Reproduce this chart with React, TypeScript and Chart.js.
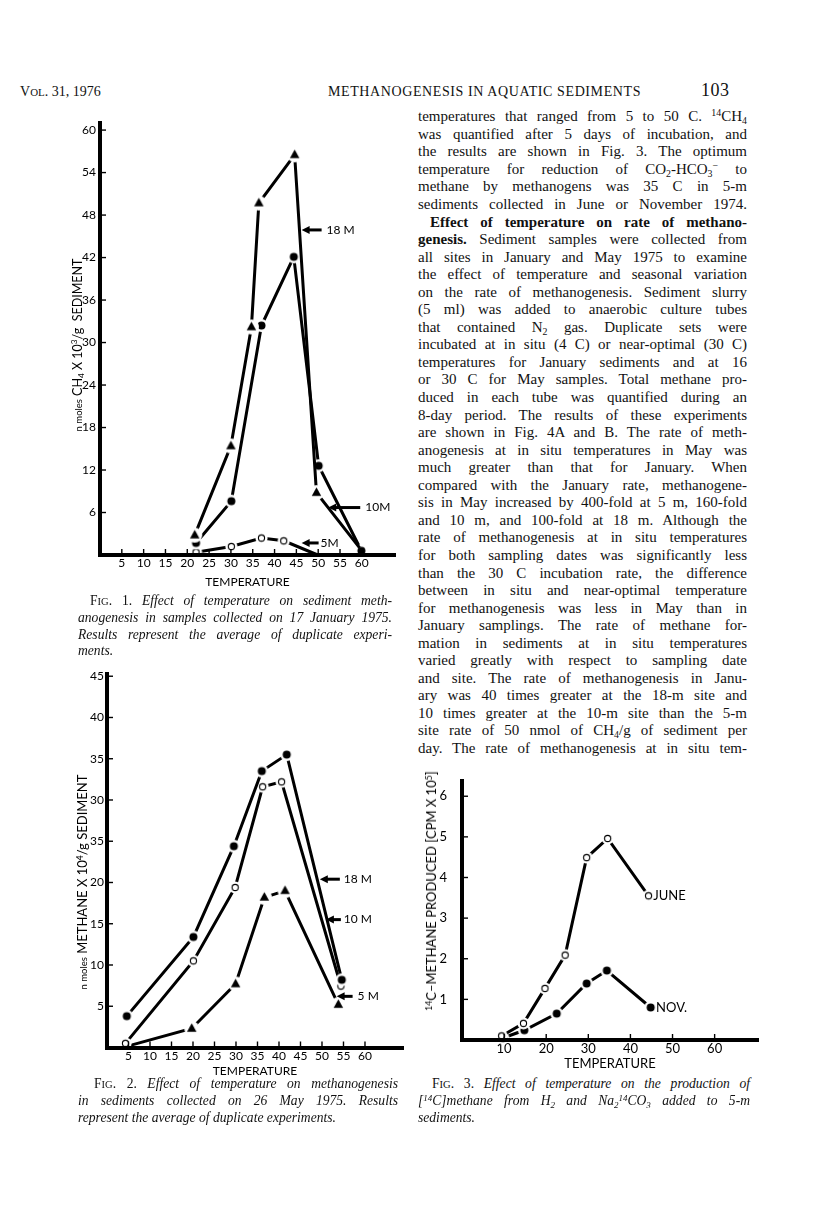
import React, { useEffect, useRef } from "react";
import { Chart, registerables } from "chart.js";
Chart.register(...registerables);

// ---------------- DATA ----------------
// Fig. 1 (17 January 1975)
const F1_X_TICKS = [5, 10, 15, 20, 25, 30, 35, 40, 45, 50, 55, 60];
const F1_Y_TICKS = [6, 12, 18, 24, 30, 36, 42, 48, 54, 60];
const F1_18M_T = [21.7, 30.0, 34.7, 36.4, 44.6, 49.6, 59.5];
const F1_18M_V = [2.8, 15.4, 32.2, 49.7, 56.5, 8.8, 1.0];
const F1_10M_T = [22.0, 30.1, 37.0, 44.4, 50.1, 59.9];
const F1_10M_V = [1.7, 7.6, 32.4, 42.1, 12.6, 0.6];
const F1_5M_T = [22.0, 30.1, 37.0, 42.1, 49.9];
const F1_5M_V = [0.4, 1.2, 2.4, 2.0, 0.0];

// Fig. 2 (26 May 1975)
const F2_X_TICKS = [5, 10, 15, 20, 25, 30, 35, 40, 45, 50, 55, 60];
const F2_Y_TICKS = [5, 10, 15, 20, 25, 30, 35, 40, 45];
const F2_Y_TICK_LABELS = ["5", "10", "15", "20", "35", "30", "35", "40", "45"];
const F2_18M_T = [4.6, 20.1, 29.5, 36.0, 41.8, 54.6];
const F2_18M_V = [3.8, 13.4, 24.4, 33.5, 35.5, 8.2];
const F2_10M_T = [4.3, 20.1, 29.8, 36.2, 40.6, 54.4];
const F2_10M_V = [0.5, 10.5, 19.4, 31.6, 32.2, 7.45];
const F2_5M_T = [5.0, 19.7, 29.9, 36.6, 41.4, 53.8];
const F2_5M_V = [0.2, 2.3, 7.7, 18.2, 19.0, 5.2];

// Fig. 3 (5-m sediments)
const F3_X_TICKS = [10, 20, 30, 40, 50, 60];
const F3_Y_TICKS = [1, 2, 3, 4, 5, 6];
const F3_JUNE_T = [9.4, 14.6, 19.7, 24.5, 29.6, 34.6, 44.3];
const F3_JUNE_V = [0.1, 0.41, 1.27, 2.09, 4.49, 4.96, 3.55];
const F3_NOV_T = [9.7, 14.8, 22.5, 29.6, 34.4, 44.8];
const F3_NOV_V = [0.05, 0.24, 0.65, 1.39, 1.71, 0.8];

// ---------------- helpers ----------------
const pts = (xs: number[], ys: number[]) => xs.map((x, i) => ({ x, y: ys[i] }));

function makeMarker(kind: "dot" | "ring" | "tri", r: number, halo: number) {
  const size = Math.ceil(2 * (r + halo) + 2);
  const c = document.createElement("canvas");
  c.width = size;
  c.height = size;
  const g = c.getContext("2d")!;
  const m = size / 2;
  g.fillStyle = "#fff";
  g.beginPath();
  g.arc(m, m, r + halo, 0, Math.PI * 2);
  g.fill();
  g.fillStyle = "#000";
  g.strokeStyle = "#000";
  if (kind === "dot") {
    g.beginPath();
    g.arc(m, m, r, 0, Math.PI * 2);
    g.fill();
  } else if (kind === "ring") {
    g.lineWidth = 1.1;
    g.fillStyle = "#fff";
    g.beginPath();
    g.arc(m, m, r - 0.5, 0, Math.PI * 2);
    g.fill();
    g.stroke();
  } else {
    g.beginPath();
    g.moveTo(m, m - r * 1.05);
    g.lineTo(m + r * 0.95, m + r * 0.65);
    g.lineTo(m - r * 0.95, m + r * 0.65);
    g.closePath();
    g.fill();
  }
  return c;
}

const inwardTicks = {
  id: "inwardTicks",
  afterDraw(chart: any, _a: any, opts: any) {
    const { ctx, chartArea } = chart;
    const xs = chart.scales.x;
    const ys = chart.scales.y;
    const L = opts.length ?? 6;
    ctx.save();
    ctx.strokeStyle = "#000";
    ctx.lineWidth = opts.width ?? 1.4;
    for (const t of xs.ticks) {
      const px = xs.getPixelForValue(t.value);
      ctx.beginPath();
      ctx.moveTo(px, chartArea.bottom);
      ctx.lineTo(px, chartArea.bottom - L);
      ctx.stroke();
    }
    for (const t of ys.ticks) {
      const py = ys.getPixelForValue(t.value);
      ctx.beginPath();
      ctx.moveTo(chartArea.left, py);
      ctx.lineTo(chartArea.left + L, py);
      ctx.stroke();
    }
    ctx.restore();
  },
};

const arrowLabels = {
  id: "arrowLabels",
  afterDatasetsDraw(chart: any, _a: any, opts: any) {
    const items = opts.items || [];
    const { ctx } = chart;
    const xs = chart.scales.x;
    const ys = chart.scales.y;
    ctx.save();
    for (const it of items) {
      const px = xs.getPixelForValue(it.x);
      const py = ys.getPixelForValue(it.y);
      ctx.fillStyle = "#000";
      ctx.strokeStyle = "#000";
      if (it.len > 0) {
        const head = 8;
        const hw = 4;
        ctx.lineWidth = 3;
        ctx.beginPath();
        ctx.moveTo(px + head - 1, py);
        ctx.lineTo(px + it.len, py);
        ctx.stroke();
        ctx.beginPath();
        ctx.moveTo(px, py);
        ctx.lineTo(px + head, py - hw);
        ctx.lineTo(px + head, py + hw);
        ctx.closePath();
        ctx.fill();
      }
      ctx.font = opts.font;
      ctx.textBaseline = "middle";
      ctx.textAlign = "left";
      ctx.fillText(it.text, px + it.len + it.gap, py);
    }
    ctx.restore();
  },
};

type SeriesSpec = { data: { x: number; y: number }[]; marker: HTMLCanvasElement; hide?: number[] };

function buildConfig(p: any, series: SeriesSpec[]) {
  return {
    type: "line",
    data: {
      datasets: series.map((s) => ({
        data: s.data,
        borderColor: "#000",
        borderWidth: 3,
        tension: 0,
        fill: false,
        clip: false,
        pointStyle: s.marker,
        pointRadius: s.data.map((_, i) => (s.hide && s.hide.includes(i) ? 0 : 4)),
        pointHoverRadius: 0,
      })),
    },
    options: {
      animation: false,
      responsive: false,
      events: [],
      layout: { padding: { left: 0, top: p.padTop, right: p.padRight, bottom: 0 } },
      plugins: {
        legend: { display: false },
        tooltip: { enabled: false },
        inwardTicks: { length: 6, width: 1.4 },
        arrowLabels: { items: p.labels, font: p.labelFont },
      },
      scales: {
        x: {
          type: "linear",
          min: 0,
          max: p.xMax,
          afterBuildTicks: (s: any) => {
            s.ticks = p.xTicks.map((v: number) => ({ value: v }));
          },
          afterFit: (s: any) => {
            s.height = p.xH;
          },
          grid: { display: false, drawTicks: false, tickLength: 0 },
          border: { display: true, color: "#000", width: 4, z: 1 },
          ticks: {
            color: "#000",
            font: p.tickFont,
            padding: p.xPad,
            autoSkip: false,
            maxRotation: 0,
            callback: (v: number) => String(v),
          },
          title: { display: true, text: "TEMPERATURE", color: "#000", font: p.titleFont, padding: 0 },
        },
        y: {
          type: "linear",
          min: 0,
          max: p.yMax,
          afterBuildTicks: (s: any) => {
            s.ticks = p.yTicks.map((v: number) => ({ value: v }));
          },
          afterFit: (s: any) => {
            s.width = p.yW;
          },
          grid: { display: false, drawTicks: false, tickLength: 0 },
          border: { display: true, color: "#000", width: 4, z: 1 },
          ticks: {
            color: "#000",
            font: p.tickFont,
            padding: p.yPad,
            autoSkip: false,
            callback: (v: number) => {
              const i = p.yTicks.indexOf(v);
              return p.yLabels ? p.yLabels[i] : String(v);
            },
          },
        },
      },
    },
    plugins: [inwardTicks, arrowLabels],
  } as any;
}

function ChartBox({ box, make }: { box: { left: number; top: number; width: number; height: number }; make: () => any }) {
  const ref = useRef<HTMLCanvasElement | null>(null);
  useEffect(() => {
    const chart = new Chart(ref.current!, make());
    return () => chart.destroy();
  }, []);
  return (
    <canvas
      ref={ref}
      width={box.width}
      height={box.height}
      style={{ position: "absolute", left: box.left, top: box.top, width: box.width, height: box.height, display: "block" }}
    />
  );
}

const FIG_FONT = "Lato, 'DejaVu Sans', sans-serif";

function makeFig1() {
  const tri = makeMarker("tri", 5, 2.5);
  const dot = makeMarker("dot", 4, 2.5);
  const ring = makeMarker("ring", 3.6, 2.5);
  return buildConfig(
    {
      xMax: 67.6, yMax: 61, xTicks: F1_X_TICKS, yTicks: F1_Y_TICKS,
      padTop: 15, padRight: 8, yW: 40, xH: 34, yPad: 4, xPad: 1,
      tickFont: { family: FIG_FONT, size: 12 }, titleFont: { family: FIG_FONT, size: 12 },
      labelFont: `12px ${FIG_FONT}`,
      labels: [
        { text: "18 M", x: 46.2, y: 45.9, len: 20, gap: 5 },
        { text: "10M", x: 52.3, y: 6.7, len: 32, gap: 5 },
        { text: "5M", x: 46.2, y: 1.7, len: 17, gap: 2 },
      ],
    },
    [
      { data: pts(F1_18M_T, F1_18M_V), marker: tri, hide: [6] },
      { data: pts(F1_10M_T, F1_10M_V), marker: dot },
      { data: pts(F1_5M_T, F1_5M_V), marker: ring, hide: [4] },
    ]
  );
}

function makeFig2() {
  const tri = makeMarker("tri", 5, 2.5);
  const dot = makeMarker("dot", 4, 2.5);
  const ring = makeMarker("ring", 3.6, 2.5);
  return buildConfig(
    {
      xMax: 68.84, yMax: 45.27, xTicks: F2_X_TICKS, yTicks: F2_Y_TICKS, yLabels: F2_Y_TICK_LABELS,
      padTop: 15, padRight: 8, yW: 47, xH: 30.5, yPad: 3, xPad: 1,
      tickFont: { family: FIG_FONT, size: 12 }, titleFont: { family: FIG_FONT, size: 12 },
      labelFont: `12px ${FIG_FONT}`,
      labels: [
        { text: "18 M", x: 49.5, y: 20.4, len: 20, gap: 4 },
        { text: "10 M", x: 50.9, y: 15.5, len: 15, gap: 3 },
        { text: "5 M", x: 53.4, y: 6.2, len: 16, gap: 5 },
      ],
    },
    [
      { data: pts(F2_18M_T, F2_18M_V), marker: dot },
      { data: pts(F2_10M_T, F2_10M_V), marker: ring },
      { data: pts(F2_5M_T, F2_5M_V), marker: tri, hide: [0] },
    ]
  );
}

function makeFig3() {
  const dot = makeMarker("dot", 4, 2.5);
  const ring = makeMarker("ring", 3.6, 2.5);
  return buildConfig(
    {
      xMax: 70.3, yMax: 6.38, xTicks: F3_X_TICKS, yTicks: F3_Y_TICKS,
      padTop: 15, padRight: 8, yW: 50, xH: 32, yPad: 15, xPad: 1,
      tickFont: { family: FIG_FONT, size: 13 }, titleFont: { family: FIG_FONT, size: 13 },
      labelFont: `13px ${FIG_FONT}`,
      labels: [
        { text: "JUNE", x: 45.4, y: 3.55, len: 0, gap: 0 },
        { text: "NOV.", x: 46.1, y: 0.8, len: 0, gap: 0 },
      ],
    },
    [
      { data: pts(F3_JUNE_T, F3_JUNE_V), marker: ring },
      { data: pts(F3_NOV_T, F3_NOV_V), marker: dot },
    ]
  );
}

// ---------------- page text ----------------
const sup = (t: string) => <span style={{ fontSize: "0.66em", verticalAlign: "0.5em", lineHeight: 0 }}>{t}</span>;
const sub = (t: string) => <span style={{ fontSize: "0.66em", verticalAlign: "-0.3em", lineHeight: 0 }}>{t}</span>;

const BODY_LINES: React.ReactNode[] = [
  <>temperatures that ranged from 5 to 50 C. {sup("14")}CH{sub("4")}</>,
  <>was quantified after 5 days of incubation, and</>,
  <>the results are shown in Fig. 3. The optimum</>,
  <>temperature for reduction of CO{sub("2")}-HCO{sub("3")}{sup("−")} to</>,
  <>methane by methanogens was 35 C in 5-m</>,
  <>sediments collected in June or November 1974.</>,
  <b>Effect of temperature on rate of methano-</b>,
  <><b>genesis.</b> Sediment samples were collected from</>,
  <>all sites in January and May 1975 to examine</>,
  <>the effect of temperature and seasonal variation</>,
  <>on the rate of methanogenesis. Sediment slurry</>,
  <>(5 ml) was added to anaerobic culture tubes</>,
  <>that contained N{sub("2")} gas. Duplicate sets were</>,
  <>incubated at in situ (4 C) or near-optimal (30 C)</>,
  <>temperatures for January sediments and at 16</>,
  <>or 30 C for May samples. Total methane pro-</>,
  <>duced in each tube was quantified during an</>,
  <>8-day period. The results of these experiments</>,
  <>are shown in Fig. 4A and B. The rate of meth-</>,
  <>anogenesis at in situ temperatures in May was</>,
  <>much greater than that for January. When</>,
  <>compared with the January rate, methanogene-</>,
  <>sis in May increased by 400-fold at 5 m, 160-fold</>,
  <>and 10 m, and 100-fold at 18 m. Although the</>,
  <>rate of methanogenesis at in situ temperatures</>,
  <>for both sampling dates was significantly less</>,
  <>than the 30 C incubation rate, the difference</>,
  <>between in situ and near-optimal temperature</>,
  <>for methanogenesis was less in May than in</>,
  <>January samplings. The rate of methane for-</>,
  <>mation in sediments at in situ temperatures</>,
  <>varied greatly with respect to sampling date</>,
  <>and site. The rate of methanogenesis in Janu-</>,
  <>ary was 40 times greater at the 18-m site and</>,
  <>10 times greater at the 10-m site than the 5-m</>,
  <>site rate of 50 nmol of CH{sub("4")}/g of sediment per</>,
  <>day. The rate of methanogenesis at in situ tem-</>,
];

const SERIF = "'Liberation Serif', 'DejaVu Serif', serif";
const sc = (t: string) => <span style={{ fontSize: "0.78em" }}>{t}</span>;

function Line({ left, width, cy, lh, children, justify = true, indent = 0, style = {} }: any) {
  return (
    <div
      style={{
        position: "absolute",
        left: left + indent,
        width: width - indent,
        top: cy - lh / 2,
        height: lh,
        lineHeight: `${lh}px`,
        textAlign: justify ? "justify" : "left",
        textAlignLast: justify ? "justify" : "left",
        whiteSpace: "normal",
        ...style,
      }}
    >
      {children}
    </div>
  );
}

const capStyle = { fontFamily: SERIF, fontSize: 13.6, fontStyle: "italic" as const, color: "#111" };
const FigLabel = ({ n }: { n: number }) => (
  <span style={{ fontStyle: "normal" }}>
    F{sc("IG")}. {n}.{" "}
  </span>
);

function YTitle({ cx, cy, children, size }: any) {
  return (
    <div
      style={{
        position: "absolute",
        left: cx,
        top: cy,
        transform: "translate(-50%, -50%) rotate(-90deg)",
        whiteSpace: "nowrap",
        fontFamily: FIG_FONT,
        fontSize: size,
        lineHeight: "14px",
        color: "#000",
      }}
    >
      {children}
    </div>
  );
}

export default function App() {
  return (
    <div
      style={{
        position: "absolute",
        left: 0,
        top: 0,
        width: 816,
        height: 1217,
        background: "#fff",
        overflow: "hidden",
        color: "#111",
      }}
    >
      {/* running head */}
      <div style={{ position: "absolute", left: 20, top: 83, fontFamily: SERIF, fontSize: 14, lineHeight: "18px" }}>
        V{sc("OL")}. 31, 1976
      </div>
      <div style={{ position: "absolute", left: 328, top: 83, fontFamily: SERIF, fontSize: 14, lineHeight: "18px", letterSpacing: 0.6 }}>
        METHANOGENESIS IN AQUATIC SEDIMENTS
      </div>
      <div style={{ position: "absolute", left: 701, top: 80, fontFamily: SERIF, fontSize: 18, lineHeight: "20px", letterSpacing: 0.5 }}>
        103
      </div>

      {/* right column body text */}
      <div style={{ fontFamily: SERIF, fontSize: 15, color: "#111" }}>
        {BODY_LINES.map((ln, i) => (
          <Line key={i} left={418} width={329} cy={117 + i * 17.55} lh={17.55} indent={i === 6 ? 12 : 0}>
            {ln}
          </Line>
        ))}
      </div>

      {/* charts */}
      <ChartBox box={{ left: 60, top: 108, width: 343, height: 481 }} make={makeFig1} />
      <ChartBox box={{ left: 60, top: 659, width: 351, height: 419 }} make={makeFig2} />
      <ChartBox box={{ left: 412, top: 758, width: 354, height: 314 }} make={makeFig3} />

      {/* y axis titles */}
      <YTitle cx={78} cy={345} size={12.5}>
        <span style={{ fontSize: 9.5 }}>n moles</span> CH{sub("4")} X 10{sup("3")}/g&nbsp; SEDIMENT
      </YTitle>
      <YTitle cx={83} cy={882} size={13}>
        <span style={{ fontSize: 9.5 }}>n moles</span> METHANE X 10{sup("4")}/g SEDIMENT
      </YTitle>
      <YTitle cx={431} cy={891} size={13}>
        {sup("14")}C–METHANE PRODUCED [CPM X 10{sup("5")}]
      </YTitle>

      {/* captions */}
      <div style={capStyle}>
        <Line left={78} width={314} cy={601.5} lh={16.7} indent={12}>
          <FigLabel n={1} />Effect of temperature on sediment meth-
        </Line>
        <Line left={78} width={314} cy={618.2} lh={16.7}>
          anogenesis in samples collected on 17 January 1975.
        </Line>
        <Line left={78} width={314} cy={634.9} lh={16.7}>
          Results represent the average of duplicate experi-
        </Line>
        <Line left={78} width={314} cy={651.6} lh={16.7} justify={false}>
          ments.
        </Line>

        <Line left={78} width={320} cy={1084.7} lh={16.7} indent={16}>
          <FigLabel n={2} />Effect of temperature on methanogenesis
        </Line>
        <Line left={78} width={320} cy={1101.4} lh={16.7}>
          in sediments collected on 26 May 1975. Results
        </Line>
        <Line left={78} width={320} cy={1118.1} lh={16.7} justify={false}>
          represent the average of duplicate experiments.
        </Line>

        <Line left={418} width={332} cy={1084.7} lh={16.7} indent={14}>
          <FigLabel n={3} />Effect of temperature on the production of
        </Line>
        <Line left={418} width={332} cy={1101.4} lh={16.7}>
          [{sup("14")}C]methane from H{sub("2")} and Na{sub("2")}{sup("14")}CO{sub("3")} added to 5-m
        </Line>
        <Line left={418} width={332} cy={1118.1} lh={16.7} justify={false}>
          sediments.
        </Line>
      </div>
    </div>
  );
}
